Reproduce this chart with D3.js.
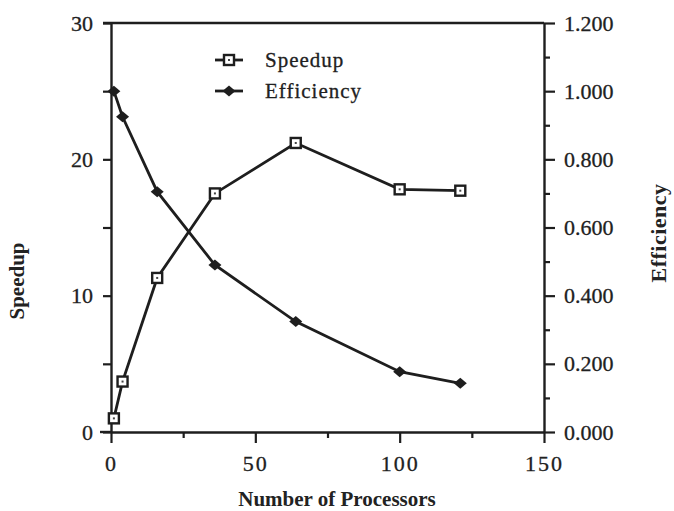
<!DOCTYPE html>
<html><head><meta charset="utf-8">
<script src="https://cdn.jsdelivr.net/npm/d3@7"></script>
<style>
body{margin:0;background:#fff;}
text{font-family:"Liberation Serif","Times New Roman",serif;fill:#222;}
</style></head>
<body><svg id="c" width="674" height="511"></svg>
<script>
const processors = [1, 4, 16, 36, 64, 100, 121];
const speedup = [1.0, 3.7, 11.3, 17.5, 21.2, 17.8, 17.7];
const efficiency = [1.000, 0.925, 0.705, 0.490, 0.324, 0.177, 0.143];
const xTicks = [0, 25, 50, 75, 100, 125, 150];
const xLabels = [0, 50, 100, 150];
const leftTicks = [0, 5, 10, 15, 20, 25, 30];
const leftLabels = [0, 10, 20, 30];
const rightTicks = [0, 0.1, 0.2, 0.3, 0.4, 0.5, 0.6, 0.7, 0.8, 0.9, 1.0, 1.1, 1.2];
const rightLabels = [0, 0.2, 0.4, 0.6, 0.8, 1.0, 1.2];
const seriesNames = ["Speedup", "Efficiency"];

const svg = d3.select("#c");
const ink = "#1e1e1e";
const x = d3.scaleLinear().domain([0, 150]).range([111, 544]);
const yL = d3.scaleLinear().domain([0, 30]).range([432, 23]);
const yR = d3.scaleLinear().domain([0, 1.2]).range([432, 23]);

// top border
svg.append("line").attr("x1", 103).attr("x2", 544).attr("y1", yL(30)).attr("y2", yL(30))
  .attr("stroke", ink).attr("stroke-width", 2.4);

function styleAxis(g){
  g.select(".domain").attr("stroke", ink).attr("stroke-width", 2.4);
  g.selectAll(".tick line").attr("stroke", ink).attr("stroke-width", 2.2);
  g.selectAll("text").attr("fill", ink).attr("stroke", ink).attr("stroke-width", 0.3)
   .style("font-size", "22px")
   .style("font-family", '"Liberation Serif","Times New Roman",serif');
}

// left axis
const gL = svg.append("g").attr("transform", `translate(${x(0)},0)`)
  .call(d3.axisLeft(yL).tickValues(leftTicks).tickSize(8).tickSizeOuter(0).tickPadding(10)
    .tickFormat(d => leftLabels.includes(d) ? d3.format("d")(d) : ""));
styleAxis(gL);

// right axis
const gR = svg.append("g").attr("transform", `translate(${x(150)},0)`)
  .call(d3.axisRight(yR).tickValues(rightTicks).tickSize(11).tickSizeOuter(0).tickPadding(9)
    .tickFormat(d => rightLabels.some(v => Math.abs(v - d) < 1e-9) ? d3.format(".3f")(d) : ""));
styleAxis(gR);
gR.selectAll(".tick").filter(d => !rightLabels.some(v => Math.abs(v - d) < 1e-9))
  .select("line").attr("x2", 6);

// bottom axis
const gB = svg.append("g").attr("transform", `translate(0,${yL(0)})`)
  .call(d3.axisBottom(x).tickValues(xTicks).tickSize(11).tickSizeOuter(0).tickPadding(12)
    .tickFormat(d => xLabels.includes(d) ? String(d) : ""));
styleAxis(gB);
gB.selectAll(".tick").filter(d => !xLabels.includes(d)).select("line").attr("y2", 6);
gB.selectAll("text").style("letter-spacing", "2px");
// extend x axis line left (0 tick of left axis crossing)
svg.append("line").attr("x1", 100).attr("x2", x(0)).attr("y1", yL(0)).attr("y2", yL(0))
  .attr("stroke", ink).attr("stroke-width", 2.4);

// lines
const lineS = d3.line().x((d, i) => x(processors[i])).y(d => yL(d));
const lineE = d3.line().x((d, i) => x(processors[i])).y(d => yR(d));
svg.append("path").attr("d", lineS(speedup)).attr("fill", "none").attr("stroke", ink).attr("stroke-width", 2.8);
svg.append("path").attr("d", lineE(efficiency)).attr("fill", "none").attr("stroke", ink).attr("stroke-width", 2.8);

const diamond = "M0,-5.5L6.5,0L0,5.5L-6.5,0Z";
function square(g, cx, cy){
  g.append("rect").attr("x", cx - 5).attr("y", cy - 5).attr("width", 10).attr("height", 10)
    .attr("fill", "#fff").attr("stroke", ink).attr("stroke-width", 2.4);
  g.append("rect").attr("x", cx - 1).attr("y", cy - 1).attr("width", 2).attr("height", 2).attr("fill", "#444");
}
const mk = svg.append("g");
speedup.forEach((d, i) => square(mk, x(processors[i]), yL(d)));
mk.selectAll("path.dia").data(efficiency).join("path").attr("class", "dia")
  .attr("d", diamond).attr("fill", ink)
  .attr("transform", (d, i) => `translate(${x(processors[i])},${yR(d)})`);

// legend
const lg = svg.append("g");
lg.append("line").attr("x1", 215).attr("x2", 243).attr("y1", 60).attr("y2", 60).attr("stroke", ink).attr("stroke-width", 2.8);
square(lg, 229, 60);
lg.append("line").attr("x1", 215).attr("x2", 243).attr("y1", 91).attr("y2", 91).attr("stroke", ink).attr("stroke-width", 2.8);
lg.append("path").attr("d", diamond).attr("fill", ink).attr("transform", "translate(229,91)");
lg.selectAll("text").data(seriesNames).join("text")
  .attr("x", 265).attr("y", (d, i) => 67 + i * 31)
  .attr("stroke", ink).attr("stroke-width", 0.3)
  .style("font-size", "21px").style("letter-spacing", "1px").text(d => d);

// axis titles
svg.append("text").attr("x", 337).attr("y", 506).attr("text-anchor", "middle")
  .style("font-size", "21px").style("font-weight", "bold").text("Number of Processors");
svg.append("text").attr("transform", "translate(24,281) rotate(-90)").attr("text-anchor", "middle")
  .style("font-size", "21px").style("font-weight", "bold").text("Speedup");
svg.append("text").attr("transform", "translate(666,233) rotate(-90)").attr("text-anchor", "middle")
  .style("font-size", "22px").style("font-weight", "bold").style("letter-spacing", "0.5px").text("Efficiency");
</script></body></html>
